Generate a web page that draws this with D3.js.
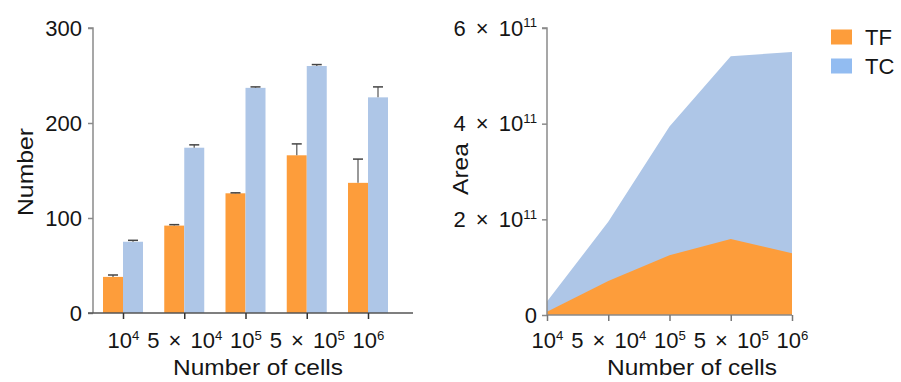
<!DOCTYPE html>
<html><head><meta charset="utf-8">
<script src="https://cdn.jsdelivr.net/npm/d3@7"></script>
<style>
html,body{margin:0;padding:0;background:#fff;}
text{font-family:"Liberation Sans",Arial,Helvetica,sans-serif;fill:#151515;}
</style></head>
<body><svg id="c" width="901" height="382"></svg>
<script>
const categories = ["10^4", "5 × 10^4", "10^5", "5 × 10^5", "10^6"];
const seriesNames = ["TF", "TC"];
const tfNumber = [38, 92, 126, 166, 137];
const tfNumberErr = [2, 1, 0.5, 12, 25];
const tcNumber = [75, 174, 237, 260, 227];
const tcNumberErr = [1.5, 3, 1, 1.5, 11];
const tfArea = [0.07e11, 0.71e11, 1.25e11, 1.59e11, 1.29e11];
const tcArea = [0.28e11, 1.95e11, 3.94e11, 5.41e11, 5.50e11];
const numberTicks = [0, 100, 200, 300];
const areaTicks = [0, 2e11, 4e11, 6e11];
const areaTickLabels = ["0", "2 × 10^11", "4 × 10^11", "6 × 10^11"];

const ORANGE = "#fd9d3b", BLUE = "#aec6e7", LEGBLUE = "#92bcf1";
const FS = 22;
const svg = d3.select("#c");

function richText(sel, str, gap) {
  sel.text(null);
  const parts = str.split("^");
  const m = parts[0].split(" × ");
  if (m.length > 1) {
    sel.append("tspan").text(m[0] + " ");
    sel.append("tspan").attr("dx", gap).text("× ");
    sel.append("tspan").attr("dx", gap).text(m[1]);
  } else {
    sel.append("tspan").text(parts[0]);
  }
  if (parts.length > 1) {
    sel.append("tspan").attr("font-size", FS * 0.6).attr("dy", -FS * 0.38).text(parts[1]);
  }
}

// ---------- Left chart ----------
const L = {x0: 93, y0: 313, yTop: 28};
const xLp = d3.scalePoint().domain(categories).range([123, 368]);
const yL = d3.scaleLinear().domain([0, 300]).range([L.y0, L.yTop]);
const inner = d3.scaleBand().domain(seriesNames).range([0, 40]);

const gL = svg.append("g");
categories.forEach((c, i) => {
  const cx = xLp(c);
  [[tfNumber, tfNumberErr, ORANGE, "TF"], [tcNumber, tcNumberErr, BLUE, "TC"]].forEach(([vals, errs, col, name]) => {
    const bx = cx - 20 + inner(name);
    const v = vals[i], e = errs[i];
    gL.append("rect").attr("x", bx).attr("y", yL(v)).attr("width", inner.bandwidth()).attr("height", yL(0) - yL(v)).attr("fill", col);
    const mx = bx + inner.bandwidth() / 2;
    gL.append("line").attr("x1", mx).attr("x2", mx).attr("y1", yL(v)).attr("y2", yL(v + e)).attr("stroke", "#777").attr("stroke-width", 1.5);
    gL.append("line").attr("x1", mx - 5).attr("x2", mx + 5).attr("y1", yL(v + e)).attr("y2", yL(v + e)).attr("stroke", "#444").attr("stroke-width", 1.5);
  });
});

const yAxL = gL.append("g").attr("transform", `translate(${L.x0},0)`)
  .call(d3.axisLeft(yL).tickValues(numberTicks).tickSize(5).tickPadding(6).tickFormat(d3.format("d")));
yAxL.select(".domain").attr("stroke", "#8a8a8a").attr("stroke-width", 1.5).attr("d", `M-5,${L.yTop}H0V${L.y0}`);
yAxL.selectAll(".tick line").attr("stroke", "#8a8a8a").attr("stroke-width", 1.5);
yAxL.selectAll(".tick text").attr("font-size", FS).attr("fill", "#151515").attr("font-family", "Liberation Sans, Arial, sans-serif");

const xAxL = gL.append("g").attr("transform", `translate(0,${L.y0})`)
  .call(d3.axisBottom(xLp).tickSize(6).tickPadding(8));
xAxL.select(".domain").attr("d", `M88,0H413`).attr("stroke", "#555").attr("stroke-width", 1.5);
xAxL.selectAll(".tick line").attr("stroke", "#333").attr("stroke-width", 1.5);
xAxL.selectAll(".tick text").attr("font-size", FS).attr("fill", "#151515").attr("font-family", "Liberation Sans, Arial, sans-serif")
  .attr("dy", null).attr("y", 35).each(function(d) { richText(d3.select(this), d, 3); });

gL.append("text").attr("x", 258).attr("y", 375).attr("text-anchor", "middle").attr("font-size", FS)
  .attr("textLength", 170).attr("lengthAdjust", "spacingAndGlyphs").text("Number of cells");
gL.append("text").attr("transform", "translate(33,172) rotate(-90)").attr("text-anchor", "middle").attr("font-size", FS)
  .attr("textLength", 88).attr("lengthAdjust", "spacingAndGlyphs").text("Number");

// ---------- Right chart ----------
const R = {x0: 547, x1: 792, y0: 315, yTop: 28};
const xR = d3.scalePoint().domain(categories).range([R.x0, R.x1]);
const yR = d3.scaleLinear().domain([0, 6e11]).range([R.y0, R.yTop]);
const gR = svg.append("g");

const areaGen = vals => d3.area().x((d, i) => xR(categories[i])).y0(yR(0)).y1((d) => yR(d))(vals);
gR.append("path").attr("d", areaGen(tcArea)).attr("fill", BLUE);
gR.append("path").attr("d", areaGen(tfArea)).attr("fill", ORANGE);

const yAxR = gR.append("g").attr("transform", `translate(${R.x0},0)`)
  .call(d3.axisLeft(yR).tickValues(areaTicks).tickSize(5).tickPadding(5).tickFormat((d, i) => areaTickLabels[i]));
yAxR.select(".domain").attr("stroke", "#8a8a8a").attr("stroke-width", 1.5).attr("d", `M-5,${R.yTop}H0V${R.y0}`);
yAxR.selectAll(".tick line").attr("stroke", "#8a8a8a").attr("stroke-width", 1.5);
yAxR.selectAll(".tick text").attr("font-size", FS).attr("fill", "#151515").attr("font-family", "Liberation Sans, Arial, sans-serif")
  .each(function(d, i) { richText(d3.select(this), areaTickLabels[i], 4); });

const xAxR = gR.append("g").attr("transform", `translate(0,${R.y0})`)
  .call(d3.axisBottom(xR).tickSize(6).tickPadding(8));
xAxR.select(".domain").attr("d", `M${R.x0},0H${R.x1}`).attr("stroke", "#8a8a8a").attr("stroke-width", 1.5);
xAxR.selectAll(".tick line").attr("stroke", "#777").attr("stroke-width", 1.5);
xAxR.selectAll(".tick text").attr("font-size", FS).attr("fill", "#151515").attr("font-family", "Liberation Sans, Arial, sans-serif")
  .attr("dy", null).attr("y", 33).each(function(d) { richText(d3.select(this), d, 3); });

gR.append("text").attr("x", 692).attr("y", 375).attr("text-anchor", "middle").attr("font-size", FS)
  .attr("textLength", 170).attr("lengthAdjust", "spacingAndGlyphs").text("Number of cells");
gR.append("text").attr("transform", "translate(468,169) rotate(-90)").attr("text-anchor", "middle").attr("font-size", FS)
  .attr("textLength", 52).attr("lengthAdjust", "spacingAndGlyphs").text("Area");

// legend
const leg = svg.append("g");
[[seriesNames[0], ORANGE, 29.5], [seriesNames[1], LEGBLUE, 58.5]].forEach(([n, col, y]) => {
  leg.append("rect").attr("x", 831).attr("y", y).attr("width", 21).attr("height", 15).attr("fill", col);
  leg.append("text").attr("x", 865).attr("y", y + 15.5).attr("font-size", FS).text(n);
});
</script></body></html>
